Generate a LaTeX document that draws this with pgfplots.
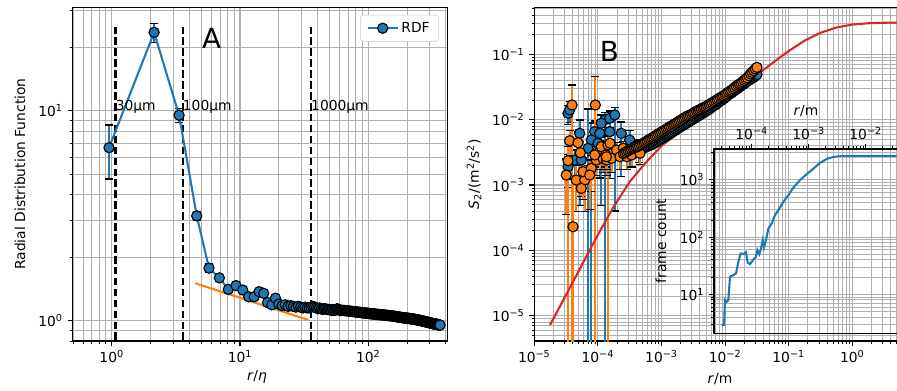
\documentclass[border=0pt]{standalone}
\usepackage{pgfplots}
\usepackage{pgfplotstable}
\pgfplotsset{compat=1.18}
\usepackage{fontspec}
\setmainfont{DejaVu Sans}
\definecolor{c0}{HTML}{1F77B4}
\definecolor{c1}{HTML}{FF7F0E}
\definecolor{c2}{HTML}{2CA02C}
\definecolor{c3}{HTML}{D62728}
\definecolor{gridgray}{HTML}{B0B0B0}
\pgfplotstableread{
x y ep em
0.953 6.68 1.90 1.94
2.14 23.7 2.5 2.5
3.35 9.54 0.76 0.71
4.60 3.16 0.15 0.15
5.73 1.78 0.08 0.08
6.90 1.60 0.05 0.05
}\rdferr
\pgfplotstableread{
x y
0.953 6.68
2.14 23.7
3.35 9.54
4.60 3.16
5.73 1.78
6.90 1.60
8.11 1.41
9.31 1.47
10.5 1.40
11.7 1.30
12.9 1.30
14.1 1.375
15.3 1.35
16.4 1.22
17.7 1.19
18.9 1.28
20.1 1.20
21.3 1.18
22.5 1.19
23.7 1.17
24.9 1.18
26.1 1.17
27.3 1.16
28.5 1.17
29.7 1.16
30.9 1.15
32.1 1.16
33.3 1.15
34.5 1.15
35.7 1.16
36.9 1.17
38.1 1.16
39.3 1.15
40.5 1.14
41.7 1.15
42.9 1.14
44.1 1.13
45.3 1.14
46.5 1.14
47.7 1.13
48.9 1.13
50.1 1.13
51.3 1.12
52.5 1.13
53.7 1.12
54.9 1.12
56.1 1.13
57.3 1.14
58.5 1.13
59.7 1.12
60.9 1.12
62.1 1.12
63.3 1.118
64.5 1.12
65.7 1.117
66.9 1.115
68.1 1.114
69.3 1.112
70.5 1.113
71.7 1.11
72.9 1.109
74.1 1.107
75.3 1.106
76.5 1.106
77.7 1.104
78.9 1.102
80.1 1.101
81.3 1.10
82.5 1.099
83.7 1.097
84.9 1.096
86.1 1.095
87.3 1.094
88.5 1.093
89.7 1.092
90.9 1.091
92.1 1.090
93.3 1.089
94.5 1.088
95.7 1.087
96.9 1.086
98.1 1.085
99.3 1.084
100.5 1.083
101.7 1.082
102.9 1.081
104.1 1.080
105.3 1.080
106.5 1.079
107.7 1.078
108.9 1.077
110.1 1.076
111.3 1.075
112.5 1.075
113.7 1.074
114.9 1.073
116.1 1.072
117.3 1.071
118.5 1.070
119.7 1.070
121.5 1.069
123.3 1.068
125.1 1.067
126.9 1.067
128.7 1.066
130.5 1.065
132.3 1.064
134.1 1.063
135.9 1.062
137.7 1.061
139.5 1.060
141.3 1.059
143.1 1.058
144.9 1.058
146.7 1.057
148.5 1.056
150.3 1.055
152.1 1.054
153.9 1.053
155.7 1.051
157.5 1.050
159.3 1.049
161.1 1.048
162.9 1.047
164.7 1.046
166.5 1.045
168.3 1.043
170.1 1.042
171.9 1.041
173.7 1.040
175.5 1.039
177.3 1.038
179.1 1.037
180.9 1.036
182.7 1.035
184.5 1.034
186.3 1.033
188.1 1.033
189.9 1.032
191.7 1.031
193.5 1.030
195.3 1.030
197.1 1.029
198.9 1.028
200.7 1.027
202.5 1.027
204.3 1.026
206.1 1.025
207.9 1.024
209.7 1.023
211.5 1.023
213.3 1.022
215.1 1.021
216.9 1.020
218.7 1.020
220.5 1.019
222.3 1.018
224.1 1.017
225.9 1.016
227.7 1.015
229.5 1.015
231.3 1.014
233.1 1.013
234.9 1.012
236.7 1.011
238.5 1.010
240.3 1.010
242.1 1.009
243.9 1.008
245.7 1.007
247.5 1.006
249.3 1.005
251.1 1.004
252.9 1.003
254.7 1.002
256.5 1.001
258.3 1.000
260.1 0.999
261.9 0.998
263.7 0.997
265.5 0.996
267.3 0.995
269.1 0.994
270.9 0.993
272.7 0.992
274.5 0.991
276.3 0.990
278.1 0.989
279.9 0.988
281.7 0.987
283.5 0.986
285.3 0.985
287.1 0.984
288.9 0.983
290.7 0.982
292.5 0.981
294.3 0.981
296.1 0.980
297.9 0.979
299.7 0.978
301.5 0.977
303.3 0.976
305.1 0.975
306.9 0.974
308.7 0.974
310.5 0.973
312.3 0.972
314.1 0.971
315.9 0.970
317.7 0.969
319.5 0.968
321.3 0.968
323.1 0.967
324.9 0.966
326.7 0.966
328.5 0.965
330.3 0.964
332.1 0.964
333.9 0.963
335.7 0.962
337.5 0.962
339.3 0.961
341.1 0.961
342.9 0.960
344.7 0.959
346.5 0.959
348.3 0.958
350.1 0.957
351.9 0.957
353.7 0.956
355.5 0.955
357.3 0.955
359.1 0.954
360.9 0.953
362.0 0.953
}\rdf
\pgfplotstableread{
x y ep em
3.39e-5 1.25e-2 4.0e-3 4.0e-3
3.60e-5 1.41e-2 5.0e-3 5.0e-3
5.17e-5 6.18e-3 3.7e-3 5.69e-3
1.28e-4 9.88e-3 3.0e-3 9.8799e-3
1.53e-4 1.05e-2 3.0e-3 3.0e-3
1.84e-4 1.18e-2 3.7e-3 1.14e-2
1.13e-4 8.79e-3 3.0e-3 8.3e-3
8.91e-5 6.54e-3 3.0e-3 3.0e-3
1.07e-4 6.18e-3 3.0e-3 4.9e-3
1.53e-4 6.54e-3 3.0e-3 5.27e-3
2.33e-4 6.18e-3 3.0e-3 4.84e-3
3.16e-4 4.88e-3 2.0e-3 3.0e-3
7.87e-5 4.88e-3 4.0e-3 4.8799e-3
3.39e-5 1.91e-3 1.0e-3 1.0e-3
4.32e-5 2.41e-3 1.0e-3 1.0e-3
6.99e-5 3.64e-3 1.09e-2 3.6399e-3
1.00e-4 4.35e-3 2.0e-3 2.0e-3
3.79e-4 3.86e-3 1.0e-3 1.0e-3
4.43e-4 3.23e-3 1.0e-3 1.0e-3
5.48e-5 2.41e-3 1.0e-3 1.0e-3
}\bluenoise
\pgfplotstableread{
x y ep em
3.92e-5 1.676e-2 1.71e-2 1.6759e-2
9.10e-5 1.676e-2 2.86e-2 1.6759e-2
3.60e-5 4.76e-3 2.0e-3 2.0e-3
4.86e-5 4.44e-3 2.0e-3 2.0e-3
5.29e-5 3.12e-3 1.5e-3 1.5e-3
3.39e-5 2.35e-3 1.5e-3 2.3499e-3
3.18e-5 1.42e-3 1.07e-3 1.07e-3
4.57e-5 1.19e-3 8.0e-4 8.0e-4
6.20e-5 1.19e-3 8.0e-4 8.0e-4
5.48e-5 8.90e-4 2.3e-4 2.3e-4
5.83e-5 1.60e-3 1.0e-3 1.0e-3
7.87e-5 1.80e-3 1.0e-3 1.0e-3
7.43e-5 1.42e-3 1.0e-3 1.0e-3
9.44e-5 2.41e-3 1.0e-3 1.0e-3
1.07e-4 3.23e-3 1.5e-3 1.5e-3
1.13e-4 3.86e-3 1.5e-3 1.5e-3
1.44e-4 4.09e-3 1.5e-3 4.0899e-3
1.20e-4 2.56e-3 1.0e-3 1.0e-3
1.32e-4 2.88e-3 1.0e-3 1.0e-3
1.37e-4 2.41e-3 1.0e-3 1.0e-3
1.64e-4 2.56e-3 1.0e-3 1.0e-3
1.55e-4 4.35e-3 1.5e-3 1.5e-3
1.97e-4 3.43e-3 1.0e-3 1.0e-3
2.22e-4 2.71e-3 1.0e-3 1.0e-3
2.51e-4 3.64e-3 1.0e-3 1.0e-3
2.83e-4 2.71e-3 1.0e-3 1.0e-3
3.39e-4 2.88e-3 1.0e-3 1.0e-3
3.82e-4 3.64e-3 1.0e-3 1.0e-3
4.58e-4 3.06e-3 1.0e-3 1.0e-3
4.06e-5 2.30e-4 1.0e-3 2.2999e-4
1.36e-4 2.71e-3 1.0e-3 1.0e-3
8.91e-5 2.88e-3 1.0e-3 1.0e-3
}\orangenoise
\pgfplotstableread{
x y
2.512e-4 2.818e-3
2.661e-4 2.851e-3
2.818e-4 2.884e-3
2.985e-4 2.951e-3
3.162e-4 3.020e-3
3.350e-4 3.090e-3
3.548e-4 3.162e-3
3.758e-4 3.236e-3
3.981e-4 3.311e-3
4.217e-4 3.388e-3
4.467e-4 3.467e-3
4.732e-4 3.548e-3
5.012e-4 3.631e-3
5.309e-4 3.715e-3
5.623e-4 3.802e-3
5.957e-4 3.890e-3
6.310e-4 3.981e-3
6.683e-4 4.074e-3
7.079e-4 4.169e-3
7.499e-4 4.315e-3
7.943e-4 4.467e-3
8.414e-4 4.624e-3
8.913e-4 4.786e-3
9.441e-4 4.955e-3
1.000e-3 5.129e-3
1.059e-3 5.309e-3
1.122e-3 5.495e-3
1.189e-3 5.689e-3
1.259e-3 5.888e-3
1.334e-3 6.095e-3
1.413e-3 6.310e-3
1.496e-3 6.531e-3
1.585e-3 6.761e-3
1.679e-3 6.998e-3
1.778e-3 7.244e-3
1.884e-3 7.499e-3
1.995e-3 7.762e-3
2.113e-3 8.035e-3
2.239e-3 8.318e-3
2.371e-3 8.610e-3
2.512e-3 8.913e-3
2.661e-3 9.226e-3
2.818e-3 9.550e-3
2.985e-3 9.886e-3
3.162e-3 1.023e-2
3.350e-3 1.059e-2
3.548e-3 1.096e-2
3.758e-3 1.135e-2
3.981e-3 1.175e-2
4.217e-3 1.216e-2
4.467e-3 1.259e-2
4.732e-3 1.303e-2
5.012e-3 1.349e-2
5.309e-3 1.396e-2
5.623e-3 1.445e-2
5.957e-3 1.514e-2
6.310e-3 1.585e-2
6.683e-3 1.641e-2
7.079e-3 1.698e-2
7.499e-3 1.778e-2
7.943e-3 1.862e-2
8.414e-3 1.928e-2
8.913e-3 1.995e-2
9.441e-3 2.089e-2
1.000e-2 2.188e-2
1.059e-2 2.291e-2
1.122e-2 2.399e-2
1.189e-2 2.483e-2
1.259e-2 2.570e-2
1.334e-2 2.692e-2
1.413e-2 2.818e-2
1.496e-2 2.917e-2
1.585e-2 3.020e-2
1.679e-2 3.162e-2
1.778e-2 3.311e-2
1.884e-2 3.428e-2
1.995e-2 3.548e-2
2.113e-2 3.715e-2
2.239e-2 3.890e-2
2.371e-2 4.027e-2
2.512e-2 4.169e-2
2.661e-2 4.315e-2
2.818e-2 4.467e-2
2.985e-2 4.677e-2
3.162e-2 4.898e-2
}\bluesmooth
\pgfplotstableread{
x y
2.512e-4 3.020e-3
2.661e-4 3.126e-3
2.818e-4 3.236e-3
2.985e-4 3.350e-3
3.162e-4 3.467e-3
3.350e-4 3.548e-3
3.548e-4 3.631e-3
3.758e-4 3.715e-3
3.981e-4 3.802e-3
4.217e-4 3.890e-3
4.467e-4 3.981e-3
4.732e-4 4.121e-3
5.012e-4 4.266e-3
5.309e-4 4.416e-3
5.623e-4 4.571e-3
5.957e-4 4.732e-3
6.310e-4 4.898e-3
6.683e-4 5.070e-3
7.079e-4 5.248e-3
7.499e-4 5.433e-3
7.943e-4 5.623e-3
8.414e-4 5.821e-3
8.913e-4 6.026e-3
9.441e-4 6.237e-3
1.000e-3 6.457e-3
1.059e-3 6.683e-3
1.122e-3 6.918e-3
1.189e-3 7.161e-3
1.259e-3 7.413e-3
1.334e-3 7.674e-3
1.413e-3 7.943e-3
1.496e-3 8.222e-3
1.585e-3 8.511e-3
1.679e-3 8.810e-3
1.778e-3 9.120e-3
1.884e-3 9.441e-3
1.995e-3 9.772e-3
2.113e-3 1.012e-2
2.239e-3 1.047e-2
2.371e-3 1.084e-2
2.512e-3 1.122e-2
2.661e-3 1.148e-2
2.818e-3 1.175e-2
2.985e-3 1.216e-2
3.162e-3 1.259e-2
3.350e-3 1.303e-2
3.548e-3 1.349e-2
3.758e-3 1.380e-2
3.981e-3 1.413e-2
4.217e-3 1.462e-2
4.467e-3 1.514e-2
4.732e-3 1.549e-2
5.012e-3 1.585e-2
5.309e-3 1.641e-2
5.623e-3 1.698e-2
5.957e-3 1.758e-2
6.310e-3 1.820e-2
6.683e-3 1.884e-2
7.079e-3 1.950e-2
7.499e-3 2.018e-2
7.943e-3 2.089e-2
8.414e-3 2.163e-2
8.913e-3 2.239e-2
9.441e-3 2.317e-2
1.000e-2 2.399e-2
1.059e-2 2.512e-2
1.122e-2 2.630e-2
1.189e-2 2.723e-2
1.259e-2 2.818e-2
1.334e-2 2.951e-2
1.413e-2 3.090e-2
1.496e-2 3.236e-2
1.585e-2 3.388e-2
1.679e-2 3.508e-2
1.778e-2 3.631e-2
1.884e-2 3.802e-2
1.995e-2 3.981e-2
2.113e-2 4.169e-2
2.239e-2 4.365e-2
2.371e-2 4.677e-2
2.512e-2 5.012e-2
2.661e-2 5.309e-2
2.818e-2 5.623e-2
2.985e-2 5.957e-2
3.162e-2 6.310e-2
}\orangesmooth
\begin{document}
\begin{tikzpicture}
% ---------------- Panel A ----------------
\begin{axis}[scale only axis, xmode=log, ymode=log,
  at={(52.2bp,36bp)}, anchor=south west,
  width=269.86bp, height=240.26bp,
  axis line style={line width=0.8pt},
  tick align=outside, xtick pos=left, ytick pos=left,
  major tick length=3.5pt, minor tick length=2pt,
  major tick style={line width=0.8pt, black},
  minor tick style={line width=0.6pt, black},
  xmajorgrids, ymajorgrids, xminorgrids, yminorgrids,
  major grid style={gridgray, line width=0.8pt},
  minor grid style={gridgray, line width=0.6pt},
  tick label style={font=\fontsize{10}{12}\selectfont},
  xmin=0.4947, xmax=412.7, ymin=0.800, ymax=31.2,
  xtick={1,10,100},
  xticklabels={10\textsuperscript{0},10\textsuperscript{1},10\textsuperscript{2}},
  minor xtick={0.5,0.6,0.7,0.8,0.9,2,3,4,5,6,7,8,9,20,30,40,50,60,70,80,90,200,300,400},
  ytick={1,10},
  yticklabels={10\textsuperscript{0},10\textsuperscript{1}},
  minor ytick={0.8,0.9,2,3,4,5,6,7,8,9,20,30},
  legend style={at={(rel axis cs:1,1)}, anchor=north east, xshift=-6bp, yshift=-5.5bp,
    draw=gridgray!70, rounded corners=2pt, fill=white,
    font=\fontsize{10}{12}\selectfont, inner xsep=4.5bp, inner ysep=3bp},
  legend cell align=left,
  legend image code/.code={\draw[mark repeat=2,mark phase=2,#1] plot coordinates {(0cm,0cm) (0.38cm,0cm) (0.76cm,0cm)};},
]
\addplot[black, line width=1.5pt, dash pattern=on 5.5pt off 2.4pt, forget plot] coordinates {(1.07,0.5) (1.07,25)};
\addplot[black, line width=1.5pt, dash pattern=on 5.5pt off 2.4pt, forget plot] coordinates {(3.57,0.5) (3.57,25)};
\addplot[black, line width=1.5pt, dash pattern=on 5.5pt off 2.4pt, forget plot] coordinates {(35.7,0.5) (35.7,25)};
\addplot[c1, line width=1.5pt, forget plot] coordinates {(4.48,1.508) (34.1,1.008)};
\addplot[draw=none, mark=none, forget plot,
  error bars/y dir=both, error bars/y explicit,
  error bars/error bar style={draw=c0, line width=1.5pt, solid},
  error bars/error mark options={rotate=90, draw=black, mark size=3pt, line width=1pt}]
  table[x=x, y=y, y error plus=ep, y error minus=em] {\rdferr};
\addplot[c0, line width=1.5pt, mark=*, mark size=3.7pt,
  mark options={fill=c0, draw=black, line width=0.8pt, solid}] table[x=x,y=y] {\rdf};
\addlegendentry{RDF}
\node[anchor=base west, inner sep=0pt, font=\fontsize{10}{12}\selectfont] at (axis cs:1.07,10) {30µm};
\node[anchor=base west, inner sep=0pt, font=\fontsize{10}{12}\selectfont] at (axis cs:3.57,10) {100µm};
\node[anchor=base west, inner sep=0pt, font=\fontsize{10}{12}\selectfont] at (axis cs:35.7,10) {1000µm};
\node[anchor=base west, inner sep=0pt, font=\fontsize{20}{24}\selectfont] at (axis cs:5.03,19.9) {A};
\end{axis}
% ---------------- Panel B ----------------
\begin{axis}[scale only axis, xmode=log, ymode=log,
  at={(384.7bp,36bp)}, anchor=south west,
  width=262.58bp, height=240.26bp,
  axis line style={line width=0.8pt},
  tick align=outside, xtick pos=left, ytick pos=left,
  major tick length=3.5pt, minor tick length=2pt,
  major tick style={line width=0.8pt, black},
  minor tick style={line width=0.6pt, black},
  xmajorgrids, ymajorgrids, xminorgrids, yminorgrids,
  major grid style={gridgray, line width=0.8pt},
  minor grid style={gridgray, line width=0.6pt},
  tick label style={font=\fontsize{10}{12}\selectfont},
  xmin=1e-5, xmax=5.42, ymin=4.10e-6, ymax=0.5238,
  xtick={1e-5,1e-4,1e-3,1e-2,1e-1,1},
  xticklabels={10\textsuperscript{−5},10\textsuperscript{−4},10\textsuperscript{−3},10\textsuperscript{−2},10\textsuperscript{−1},10\textsuperscript{0}},
  minor xtick={2e-5,3e-5,4e-5,5e-5,6e-5,7e-5,8e-5,9e-5,2e-4,3e-4,4e-4,5e-4,6e-4,7e-4,8e-4,9e-4,2e-3,3e-3,4e-3,5e-3,6e-3,7e-3,8e-3,9e-3,0.02,0.03,0.04,0.05,0.06,0.07,0.08,0.09,0.2,0.3,0.4,0.5,0.6,0.7,0.8,0.9,2,3,4,5},
  ytick={1e-5,1e-4,1e-3,1e-2,1e-1},
  yticklabels={10\textsuperscript{−5},10\textsuperscript{−4},10\textsuperscript{−3},10\textsuperscript{−2},10\textsuperscript{−1}},
  minor ytick={5e-6,6e-6,7e-6,8e-6,9e-6,2e-5,3e-5,4e-5,5e-5,6e-5,7e-5,8e-5,9e-5,2e-4,3e-4,4e-4,5e-4,6e-4,7e-4,8e-4,9e-4,2e-3,3e-3,4e-3,5e-3,6e-3,7e-3,8e-3,9e-3,0.02,0.03,0.04,0.05,0.06,0.07,0.08,0.09,0.2,0.3,0.4,0.5},
]
\addplot[draw=none, mark=none, forget plot,
  error bars/y dir=both, error bars/y explicit,
  error bars/error bar style={draw=c0, line width=1.5pt, solid},
  error bars/error mark options={rotate=90, draw=black, mark size=3pt, line width=1pt}]
  table[x=x, y=y, y error plus=ep, y error minus=em] {\bluenoise};
\addplot[only marks, mark=*, mark size=3.7pt, mark options={fill=c0, draw=black, line width=0.8pt, solid}] table[x=x,y=y] {\bluenoise};
\addplot[only marks, mark=*, mark size=3.7pt, mark options={fill=c0, draw=black, line width=0.8pt, solid}] table[x=x,y=y] {\bluesmooth};
\addplot[draw=none, mark=none, forget plot,
  error bars/y dir=both, error bars/y explicit,
  error bars/error bar style={draw=c1, line width=1.5pt, solid},
  error bars/error mark options={rotate=90, draw=black, mark size=3pt, line width=1pt}]
  table[x=x, y=y, y error plus=ep, y error minus=em] {\orangenoise};
\addplot[only marks, mark=*, mark size=3.7pt, mark options={fill=c1, draw=black, line width=0.8pt, solid}] table[x=x,y=y] {\orangenoise};
\addplot[only marks, mark=*, mark size=3.7pt, mark options={fill=c1, draw=black, line width=0.8pt, solid}] table[x=x,y=y] {\orangesmooth};
\addplot[c2, line width=2pt, dash pattern=on 5.5pt off 2.4pt] coordinates {
(4.467e-4,3.802e-3) (1e-3,6.166e-3) (1.778e-3,8.710e-3) (3.162e-3,1.202e-2)
(5.623e-3,1.622e-2) (1e-2,2.291e-2) (1.778e-2,3.467e-2) (3.162e-2,5.754e-2)};
\addplot[c3, line width=1.5pt] coordinates {
(1.766e-5,7.21e-6) (3.162e-5,2.089e-5) (5.623e-5,6.026e-5) (1e-4,1.738e-4)
(1.778e-4,4.677e-4) (3.162e-4,1.122e-3) (5.623e-4,2.188e-3) (1e-3,3.981e-3)
(1.778e-3,6.026e-3) (3.162e-3,9.120e-3) (5.623e-3,1.380e-2) (1e-2,2.089e-2)
(1.778e-2,3.162e-2) (3.162e-2,4.842e-2) (5.623e-2,7.413e-2) (0.1,0.1122)
(0.1778,0.1622) (0.3162,0.2138) (0.5623,0.2570) (1,0.2851) (1.778,0.2985) (3.162,0.3041) (5.012,0.3055)};
\node[anchor=base west, inner sep=0pt, font=\fontsize{20}{24}\selectfont] at (axis cs:1.06e-4,0.077) {B};
\end{axis}
% ---------------- Inset ----------------
\begin{axis}[scale only axis, xmode=log, ymode=log,
  at={(514.08bp,41.54bp)}, anchor=south west,
  width=133.2bp, height=132.7bp,
  axis background/.style={fill=white},
  axis line style={line width=0.8pt},
  tick align=outside, xtick pos=left, ytick pos=left,
  major tick length=3.5pt, minor tick length=2pt,
  major tick style={line width=0.8pt, black},
  minor tick style={line width=0.6pt, black},
  xmajorgrids, ymajorgrids, xminorgrids, yminorgrids,
  major grid style={gridgray, line width=0.8pt},
  minor grid style={gridgray, line width=0.6pt},
  tick label style={font=\fontsize{10}{12}\selectfont},
  xmin=6.69e-3, xmax=5.42, ymin=2.086, ymax=3475,
  xtick={1e-2,1e-1,1}, xticklabels={},
  minor xtick={7e-3,8e-3,9e-3,0.02,0.03,0.04,0.05,0.06,0.07,0.08,0.09,0.2,0.3,0.4,0.5,0.6,0.7,0.8,0.9,2,3,4,5},
  major x tick style={draw=none}, minor x tick style={draw=none},
  ytick={10,100,1000},
  yticklabels={10\textsuperscript{1},10\textsuperscript{2},10\textsuperscript{3}},
  minor ytick={3,4,5,6,7,8,9,20,30,40,50,60,70,80,90,200,300,400,500,600,700,800,900,2000,3000},
]
\end{axis}
\begin{axis}[scale only axis, xmode=log, ymode=log,
  at={(514.08bp,41.54bp)}, anchor=south west,
  width=133.2bp, height=132.7bp,
  xmin=2.18e-5, xmax=0.0384, ymin=2.086, ymax=3475,
  axis x line*=top, axis y line=none,
  axis line style={line width=0.8pt},
  tick align=outside,
  major tick length=3.5pt, minor tick length=2pt,
  major tick style={line width=0.8pt, black},
  minor tick style={line width=0.6pt, black},
  xtick={1e-4,1e-3,1e-2},
  xticklabels={10\textsuperscript{−4},10\textsuperscript{−3},10\textsuperscript{−2}},
  minor xtick={3e-5,4e-5,5e-5,6e-5,7e-5,8e-5,9e-5,2e-4,3e-4,4e-4,5e-4,6e-4,7e-4,8e-4,9e-4,2e-3,3e-3,4e-3,5e-3,6e-3,7e-3,8e-3,9e-3,0.02,0.03},
  tick label style={font=\fontsize{10}{12}\selectfont},
]
\addplot[c0, line width=1.5pt] coordinates {
(2.97e-5,2.91) (3.27e-5,2.91) (3.40e-5,7.95) (3.64e-5,7.43) (3.89e-5,7.95) (4.16e-5,20.3)
(4.76e-5,21.7) (5.31e-5,23.2) (5.83e-5,37.1) (6.40e-5,51.8) (7.13e-5,50.5) (7.94e-5,54.7)
(8.50e-5,35.6) (9.33e-5,33.8) (9.99e-5,37.1) (1.07e-4,40.7) (1.19e-4,45.4) (1.26e-4,59.3)
(1.36e-4,50.5) (1.44e-4,60.9) (1.56e-4,88.7) (1.64e-4,66.1) (1.78e-4,88.7) (1.96e-4,141.6)
(2.24e-4,173) (2.56e-4,242) (2.93e-4,296) (3.59e-4,414) (4.40e-4,541) (5.37e-4,736)
(7.03e-4,989) (9.21e-4,1257) (1.21e-3,1579) (1.58e-3,1983) (2.07e-3,2328) (2.70e-3,2523)
(3.54e-3,2593) (3.49e-2,2593)};
\end{axis}
% ---------------- Labels ----------------
\node[rotate=90, font=\fontsize{10}{12}\selectfont] at (14.4bp,156.2bp) {Radial Distribution Function};
\node[font=\fontsize{10}{12}\selectfont] at (185bp,10bp) {\textit{r}/\textit{η}};
\node[rotate=90, font=\fontsize{10}{12}\selectfont] at (341.3bp,156.2bp) {\textit{S}\textsubscript{2}/(m\textsuperscript{2}/s\textsuperscript{2})};
\node[font=\fontsize{10}{12}\selectfont] at (518.4bp,8.5bp) {\textit{r}/m};
\node[rotate=90, font=\fontsize{10}{12}\selectfont] at (475.9bp,108bp) {frame count};
\node[font=\fontsize{10}{12}\selectfont] at (580.3bp,201.6bp) {\textit{r}/m};
\pgfresetboundingbox
\path[use as bounding box] (0,0) rectangle (645.84bp,281.52bp);
\end{tikzpicture}
\end{document}
